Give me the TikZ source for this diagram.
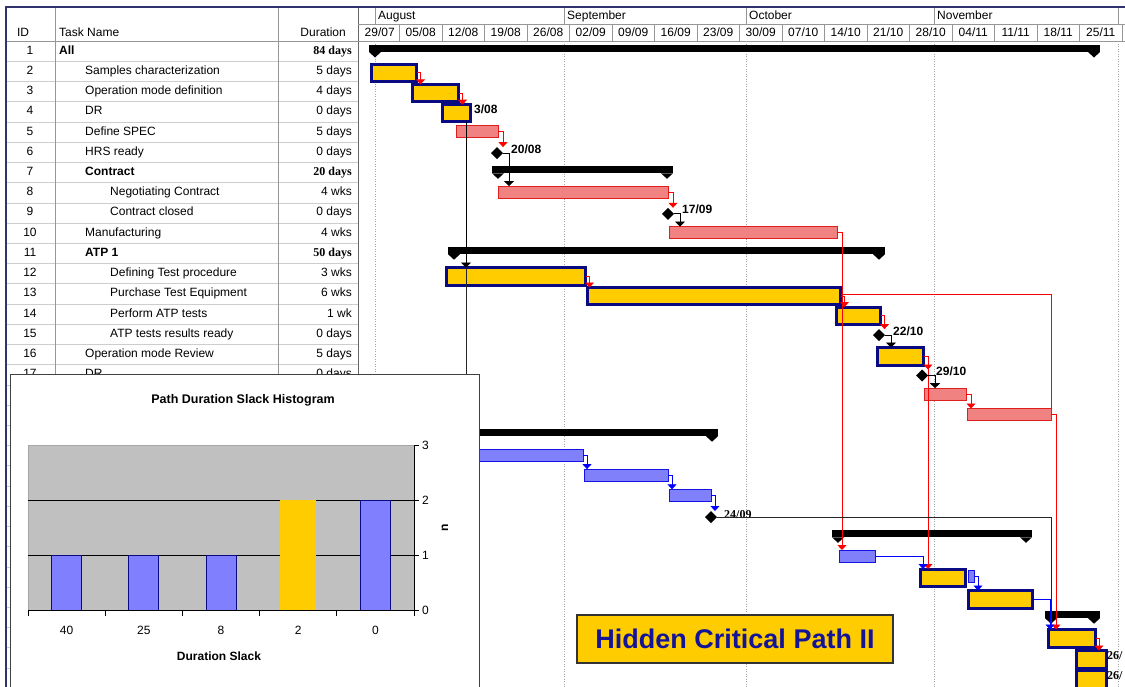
\documentclass[tikz,border=0pt]{standalone}
\usepackage{fontspec}
\setmainfont{Liberation Sans}
\newfontfamily\serifface{Liberation Serif}
\usetikzlibrary{arrows.meta,shapes.geometric,calc}

\definecolor{critfill}{RGB}{255,204,0}
\definecolor{critline}{RGB}{10,10,130}
\definecolor{slackfill}{RGB}{240,130,130}
\definecolor{slackline}{RGB}{225,30,30}
\definecolor{freefill}{RGB}{128,128,250}
\definecolor{freeline}{RGB}{20,20,230}
\definecolor{linkred}{RGB}{255,0,0}
\definecolor{linkblue}{RGB}{0,0,255}
\definecolor{gridgray}{RGB}{165,165,165}
\definecolor{rulegray}{RGB}{150,150,150}
\definecolor{rowgray}{RGB}{205,205,205}
\definecolor{framenavy}{RGB}{50,50,110}
\definecolor{plotgray}{RGB}{192,192,192}
\definecolor{histblue}{RGB}{128,128,255}
\definecolor{titleblue}{RGB}{20,20,150}

\newcommand\tfont{\fontsize{12}{14}\selectfont}
\newcommand\mfont{\fontsize{12}{14}\selectfont\bfseries}
\newcommand\sbold{\serifface\bfseries}

% a task bar as a node: style, name, x1, x2, top, bottom
\newcommand\gtask[6]{\node[#1,minimum width={#4-#3},minimum height={#6-#5}] (#2) at (#3,#5) {};}
% a summary bar with its two end tips: name, x1, x2, top
\newcommand\summbar[4]{%
  \node[summ,minimum width={#3-#2}] (#1) at (#2,#4) {};
  \fill (#1.south west) -- ++(6,5.5) -- ++(6,-5.5) -- cycle;
  \fill (#1.south east) -- ++(-6,5.5) -- ++(-6,-5.5) -- cycle;}

\begin{document}
\begin{tikzpicture}[x=1pt,y=-1pt,
  crit/.style={rectangle,draw=critline,fill=critfill,line width=3pt,inner sep=0pt,outer sep=0pt,anchor=north west},
  slack/.style={rectangle,draw=slackline,fill=slackfill,line width=0.8pt,inner sep=0pt,outer sep=0pt,anchor=north west},
  free/.style={rectangle,draw=freeline,fill=freefill,line width=0.8pt,inner sep=0pt,outer sep=0pt,anchor=north west},
  summ/.style={rectangle,fill=black,inner sep=0pt,outer sep=0pt,anchor=north west,minimum height=7pt},
  mile/.style={diamond,fill=black,minimum width=12pt,minimum height=12pt,inner sep=0pt,outer sep=0pt},
  mlabel/.style={font=\mfont,anchor=west,inner sep=0pt,text height=8.5pt,text depth=2.5pt},
  slabel/.style={font=\fontsize{12}{14}\selectfont\sbold,anchor=west,inner sep=0pt,text height=8.5pt,text depth=2.5pt},
  rlink/.style={draw=linkred,line width=0.8pt,-{Triangle[width=9pt,length=5pt]}},
  rline/.style={draw=linkred,line width=0.8pt},
  blink/.style={draw=black,line width=0.9pt,-{Triangle[width=10pt,length=5pt]}},
  bline/.style={draw=black!85,line width=0.8pt},
  ulink/.style={draw=linkblue,line width=0.8pt,-{Triangle[width=9pt,length=5pt]}},
  tcell/.style={font=\tfont,inner sep=0pt,text height=8.5pt,text depth=2.5pt},
  rowrule/.style={draw=rowgray,line width=0.6pt},
  colrule/.style={draw=rulegray,line width=0.7pt},
  monthgrid/.style={draw=gridgray,line width=0.7pt,dash pattern=on 1pt off 1.5pt},
  histlabel/.style={font=\fontsize{12}{14}\selectfont,inner sep=0pt},
  histtitle/.style={font=\fontsize{12.5}{14}\selectfont\bfseries,inner sep=0pt}
]
\useasboundingbox (0,0) rectangle (1125,686);
\clip (0,0) rectangle (1125,686);
\fill[white] (0,0) rectangle (1125,686);

% ---------- task table ----------
\foreach \k in {0,...,32} \draw[rowrule] (5,{41.1+20.22*\k}) -- (358,{41.1+20.22*\k});
\draw[colrule] (55,7) -- (55,690);
\draw[colrule] (278,7) -- (278,690);
\draw[draw=black!60,line width=0.9pt] (358,7) -- (358,690);
\draw[colrule] (5,41.1) -- (1125,41.1);

\node[tcell] (hid) at (23,33) {ID};
\node[tcell,anchor=west] (hname) at (59,33) {Task Name};
\node[tcell,anchor=east] (hdur) at (346,33) {Duration};

\foreach \rI/\rX/\rF/\rN/\rD/\rG in {
  1/59/\bfseries/All/84 days/\sbold,
  2/85/\mdseries/Samples characterization/5 days/\mdseries,
  3/85/\mdseries/Operation mode definition/4 days/\mdseries,
  4/85/\mdseries/DR/0 days/\mdseries,
  5/85/\mdseries/Define SPEC/5 days/\mdseries,
  6/85/\mdseries/HRS ready/0 days/\mdseries,
  7/85/\bfseries/Contract/20 days/\sbold,
  8/110/\mdseries/Negotiating Contract/4 wks/\mdseries,
  9/110/\mdseries/Contract closed/0 days/\mdseries,
  10/85/\mdseries/Manufacturing/4 wks/\mdseries,
  11/85/\bfseries/ATP 1/50 days/\sbold,
  12/110/\mdseries/Defining Test procedure/3 wks/\mdseries,
  13/110/\mdseries/Purchase Test Equipment/6 wks/\mdseries,
  14/110/\mdseries/Perform ATP tests/1 wk/\mdseries,
  15/110/\mdseries/ATP tests results ready/0 days/\mdseries,
  16/85/\mdseries/Operation mode Review/5 days/\mdseries,
  17/85/\mdseries/DR/0 days/\mdseries}{
  \pgfmathsetmacro\yy{51.2+20.22*(\rI-1)}
  \node[tcell] (id\rI) at (30,\yy) {\rI};
  \node[tcell,anchor=west] (nm\rI) at (\rX,\yy) {\rF\rN};
  \node[tcell,anchor=east] (du\rI) at (352,\yy) {\rG\rD};
}

% ---------- time scale ----------
\draw[colrule] (358,24) -- (1125,24);
\foreach \mx in {375,564,746,934,1118} \draw[colrule] (\mx,7) -- (\mx,24);
\foreach \k in {1,...,18} \draw[colrule] ({357+42.5*\k},24) -- ({357+42.5*\k},41.1);
\node[tcell,anchor=west] (mAug) at (378,16) {August};
\node[tcell,anchor=west] (mSep) at (567,16) {September};
\node[tcell,anchor=west] (mOct) at (749,16) {October};
\node[tcell,anchor=west] (mNov) at (937,16) {November};
\foreach \k/\dd/\mm in {0/29/07,1/05/08,2/12/08,3/19/08,4/26/08,5/02/09,6/09/09,7/16/09,8/23/09,
  9/30/09,10/07/10,11/14/10,12/21/10,13/28/10,14/04/11,15/11/11,16/18/11,17/25/11}
  \node[tcell] (wk\k) at ({357+42.5*(\k+0.5)+(\k==0?1.5:0)},33) {\dd/\mm};

% month boundaries in the chart
\foreach \mx in {375,564,746,934,1118} \draw[monthgrid] (\mx,41.1) -- (\mx,690);

% ---------- summary bars ----------
\summbar{s1}{369}{1100}{45}
\summbar{s7}{492}{673}{166.3}
\summbar{s11}{448}{885}{247.2}
\summbar{s20}{460}{718}{429.2}
\summbar{s25}{832}{1032}{530.3}
\summbar{s29}{1045}{1100}{611.2}

% ---------- task bars ----------
\gtask{crit}{t2}{371.5}{416.5}{64.2}{81.2}
\gtask{crit}{t3}{412.5}{458.5}{84.4}{101.4}
\gtask{crit}{t4}{442.5}{470.5}{104.7}{121.7}
\gtask{slack}{t5}{456}{498}{125.4}{137.4}
\gtask{slack}{t8}{498}{668}{186}{198}
\gtask{slack}{t10}{669}{837}{226.5}{238.5}
\gtask{crit}{t12}{446.5}{585.5}{267.5}{285.5}
\gtask{crit}{t13}{587.5}{840.5}{287.5}{304.5}
\gtask{crit}{t14}{836.5}{880.5}{307}{324.5}
\gtask{crit}{t16}{877.5}{923.5}{347.5}{365}
\gtask{slack}{t18}{924}{966}{388.2}{400.2}
\gtask{slack}{t19}{967}{1051}{408.5}{420.5}
\gtask{free}{t21}{462}{583}{448.9}{460.9}
\gtask{free}{t22}{584}{668}{469.1}{481.1}
\gtask{free}{t23}{669}{711}{489.3}{501.3}
\gtask{free}{t26}{839}{875}{550}{562}
\gtask{crit}{t27}{920.5}{965.5}{569}{586}
\gtask{free}{t27b}{968}{974}{570.2}{582.2}
\gtask{crit}{t28}{968.5}{1032.5}{590.5}{608}
\gtask{crit}{t30}{1048.5}{1095.5}{629.5}{647.5}
\gtask{crit}{t31}{1076.5}{1106.5}{650.5}{668.5}
\gtask{crit}{t32}{1076.5}{1106.5}{670.5}{688.5}

% ---------- milestones ----------
\node[mile] (m6) at (497,153.1) {};
\node[mile] (m9) at (668,213.8) {};
\node[mile] (m15) at (879,335.1) {};
\node[mile] (m17) at (922,375.5) {};
\node[mile] (m24) at (711,517) {};

\node[mlabel] (l4) at (474,110) {3/08};
\node[mlabel] (l6) at (511,150.5) {20/08};
\node[mlabel] (l9) at (682,210.5) {17/09};
\node[mlabel] (l15) at (893,332) {22/10};
\node[mlabel] (l17) at (936,372.5) {29/10};
\node[slabel] (l24) at (724,515) {24/09};
\node[slabel] (l31) at (1107,656) {26/};
\node[slabel] (l32) at (1107,676) {26/};

% ---------- dependency links ----------
\draw[rlink] (t2.east) -- ++(4,0) coordinate (j2) -- (j2 |- t3.north);
\draw[rlink] (t3.east) -- ++(4,0) coordinate (j3) -- (j3 |- t4.north);
\draw[rlink] (t5.east) -- ++(5,0) coordinate (j5) -- (j5 |- m6.north);
\draw[rlink] (t8.east) -- ++(5,0) coordinate (j8) -- (j8 |- m9.north);
\draw[rlink] (t10.east) -- ++(5,0) coordinate (j10) -- (j10 |- t26.north);
\draw[rlink] (t12.east) -- ++(4,0) coordinate (j12) -- (j12 |- t13.north);
\draw[rline] ([yshift=1.5pt]t13.east) -| (t19.north east);
\draw[rlink] (t13.east) -- ++(4,0) coordinate (j13) -- (j13 |- t14.north);
\draw[rlink] (t14.east) -- ++(4,0) coordinate (j14) -- (j14 |- m15.north);
\draw[rlink] (t16.east) -- ++(4.5,0) coordinate (j16) -- (j16 |- m17.north);
\draw[rlink] (j16) -- (j16 |- t27.north);
\draw[rlink] (t18.east) -- ++(5,0) coordinate (j18) -- (j18 |- t19.north);
\draw[rlink] (t19.east) -- ++(5,0) coordinate (j19) -- (j19 |- t30.north);
\draw[rlink] (t30.east) -- ++(3.5,0) coordinate (j30) -- (j30 |- t31.north);

\draw[blink] ([xshift=9.5pt]t4.south) coordinate (j4) -- (j4 |- t12.north);
\draw[bline] (j4 |- t12.north) -- (j4 |- 0,390);
\draw[blink] (m6.east) -- ++(6,0) coordinate (k6) -- (k6 |- t8.north);
\draw[blink] (m9.east) -- ++(6,0) coordinate (k9) -- (k9 |- t10.north);
\draw[blink] (m15.east) -- ++(6,0) coordinate (k15) -- (k15 |- t16.north);
\draw[blink] (m17.east) -- ++(7,0) coordinate (k17) -- (k17 |- t18.north);
\draw[bline] (m24.east) -| (t19.east |- t30.north);

\draw[ulink] (t21.east) -- ++(4,0) coordinate (u21) -- (u21 |- t22.north);
\draw[ulink] (t22.east) -- ++(4,0) coordinate (u22) -- (u22 |- t23.north);
\draw[ulink] (t23.east) -- ++(4,0) coordinate (u23) -- (u23 |- m24.north);
\draw[ulink] (t26.east) -| ([xshift=2.5pt]t27.north west);
\draw[ulink] (t27b.east) -- ++(4,0) coordinate (u27) -- (u27 |- t28.north);
\draw[ulink] (t28.east) -| ([xshift=1.5pt]t30.north west);

% ---------- histogram panel ----------
\node[rectangle,draw=black!75,fill=white,line width=0.8pt,inner sep=0pt,anchor=north west,
  minimum width=469,minimum height=322] (hist) at (10,374) {};
\filldraw[fill=plotgray,draw=black!35,line width=0.6pt] (28,445.1) rectangle (414,610.7);
\draw[black,line width=0.8pt] (28,500.3) -- (414,500.3);
\draw[black,line width=0.8pt] (28,555.5) -- (414,555.5);
\foreach \bx in {51.6,128.8,206} \filldraw[fill=histblue,draw=critline,line width=0.8pt] (\bx,610.7) rectangle (\bx+30,555.5);
\fill[critfill] (280.2,610.7) rectangle (316.2,500.3);
\filldraw[fill=histblue,draw=critline,line width=0.8pt] (360.4,610.7) rectangle (390.4,500.3);
\draw[black,line width=0.8pt] (414,445.1) -- (414,610.7);
\draw[black,line width=0.8pt] (28,610.7) -- (414,610.7);
\foreach \v in {0,...,3} {
  \draw[black,line width=0.8pt] (414,{610.7-55.2*\v}) -- (419,{610.7-55.2*\v});
  \node[histlabel,anchor=west] (hy\v) at (422,{610.7-55.2*\v}) {\v};
}
\foreach \k in {0,...,5} \draw[black,line width=0.8pt] ({28+77.2*\k},610.7) -- ({28+77.2*\k},615.7);
\foreach \k/\lab in {0/40,1/25,2/8,3/2,4/0}
  \node[histlabel] (hx\k) at ({28+77.2*(\k+0.5)},630) {\lab};
\node[histtitle] (htitle) at (243,400) {Path Duration Slack Histogram};
\node[histlabel,font=\fontsize{12}{14}\selectfont\bfseries] (hxt) at (219,656) {Duration Slack};
\node[histlabel,font=\fontsize{12}{14}\selectfont\bfseries,rotate=90] (hyt) at (445,528) {n};

% ---------- caption box ----------
\node[rectangle,draw=black!80,fill=critfill,line width=1.2pt,minimum width=316,minimum height=48,
  inner sep=0pt,font=\fontsize{27}{30}\selectfont\bfseries,text=titleblue] (hcp) at (735,639) {Hidden Critical Path II};

% ---------- outer frame ----------
\draw[framenavy,line width=1.2pt] (5,7) -- (1125,7);
\draw[framenavy,line width=1.2pt] (6,7) -- (6,690);
\end{tikzpicture}
\end{document}
